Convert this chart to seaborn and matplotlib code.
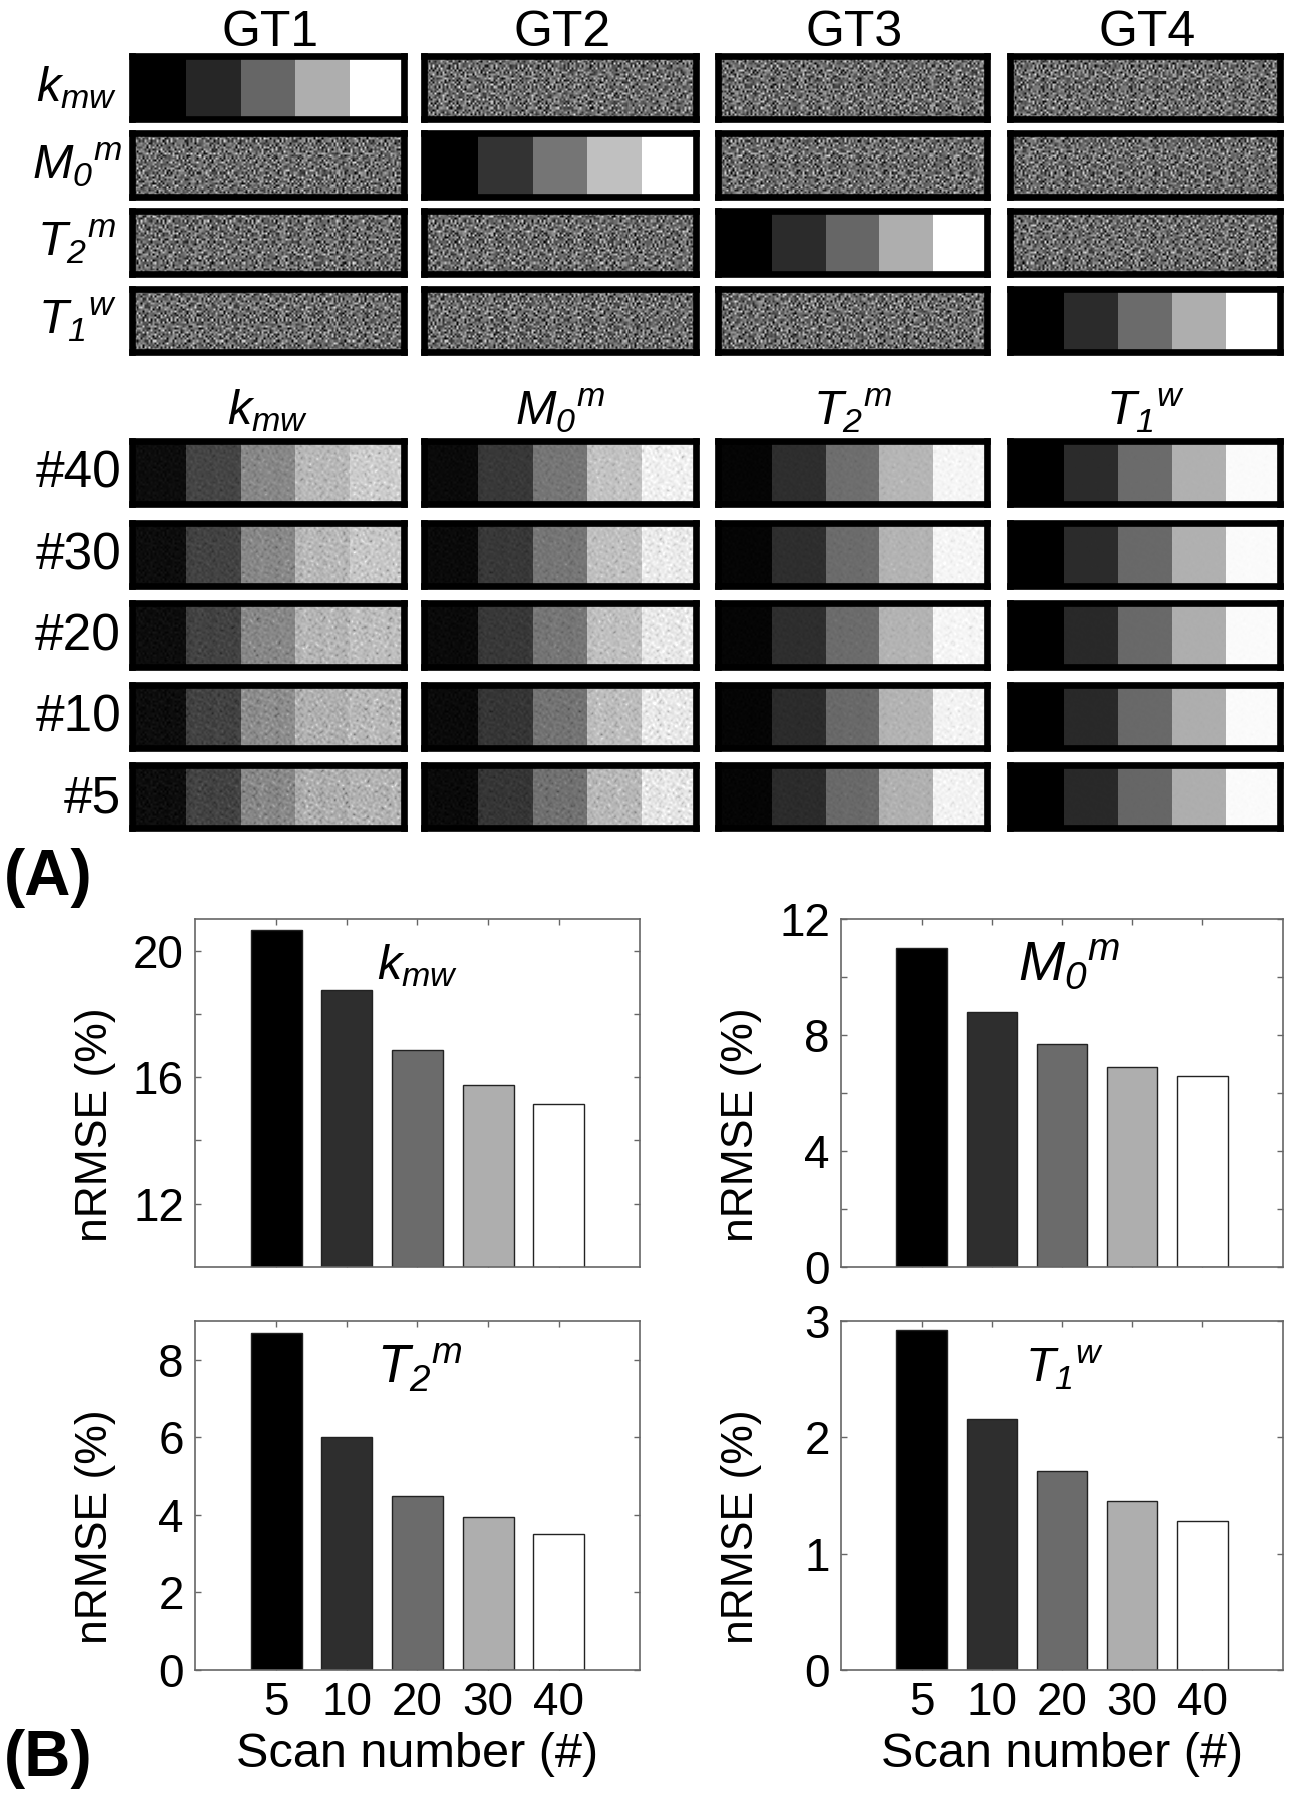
import numpy as np
import pandas as pd
import seaborn as sns
from matplotlib import pyplot as plt

sns.set_theme(style="white")
plt.rcParams["font.family"] = ["Liberation Sans", "DejaVu Sans"]
plt.rcParams["mathtext.fontset"] = "custom"
# all math labels in the figure are italic, digits included
plt.rcParams["mathtext.rm"] = "Liberation Sans:italic"
plt.rcParams["mathtext.it"] = "Liberation Sans:italic"
plt.rcParams["mathtext.bf"] = "Liberation Sans:bold"

W, H = 1292, 1800

GT_NAMES = ["GT1", "GT2", "GT3", "GT4"]
PARAM_LABELS = [r"$k_{mw}$", r"$M_0{}^{m}$", r"$T_2{}^{m}$", r"$T_1{}^{w}$"]
SCAN_ROWS = ["#40", "#30", "#20", "#10", "#5"]

# grey level of the five bands
GT_BANDS = [
    [0.00, 0.15, 0.40, 0.68, 1.00],
    [0.00, 0.20, 0.46, 0.75, 1.00],
    [0.00, 0.17, 0.40, 0.68, 1.00],
    [0.00, 0.17, 0.42, 0.68, 1.00],
]
KMW_BANDS = [
    [0.05, 0.27, 0.53, 0.72, 0.80],
    [0.05, 0.26, 0.53, 0.72, 0.78],
    [0.05, 0.26, 0.53, 0.71, 0.74],
    [0.05, 0.26, 0.55, 0.69, 0.72],
    [0.05, 0.26, 0.53, 0.68, 0.70],
]
M0_BANDS = [
    [0.04, 0.22, 0.46, 0.76, 0.94],
    [0.04, 0.22, 0.46, 0.75, 0.92],
    [0.04, 0.22, 0.46, 0.75, 0.91],
    [0.04, 0.21, 0.45, 0.74, 0.91],
    [0.04, 0.21, 0.44, 0.72, 0.90],
]
T2_BANDS = [
    [0.02, 0.18, 0.43, 0.71, 0.96],
    [0.02, 0.18, 0.42, 0.70, 0.96],
    [0.02, 0.18, 0.42, 0.70, 0.96],
    [0.02, 0.17, 0.41, 0.70, 0.95],
    [0.02, 0.17, 0.41, 0.69, 0.95],
]
T1_BANDS = [
    [0.00, 0.17, 0.42, 0.69, 0.98],
    [0.00, 0.17, 0.41, 0.69, 0.98],
    [0.00, 0.16, 0.41, 0.68, 0.98],
    [0.00, 0.16, 0.41, 0.68, 0.98],
    [0.00, 0.16, 0.40, 0.68, 0.98],
]
RECON_BANDS = [KMW_BANDS, M0_BANDS, T2_BANDS, T1_BANDS]
RECON_NOISE = [0.15, 0.11, 0.05, 0.008]
ROW_NOISE = [0.85, 0.95, 1.0, 1.1, 1.2]
NOISE_MEAN = 0.42
NOISE_AMP = 0.45

# hand typed speckle tiles, the real pixels of the noise can't be read
GRAIN_A = ["72914063851", "05382917460", "94167205839", "28540391726", "61739048215",
           "40826173954", "87351920647", "13694705282", "59078342196", "36215869470",
           "90473126568"]
GRAIN_B = ["3816029475162", "9052741638094", "1473960825731", "6280517394602", "4957183026849",
           "0361492758170", "8724036915263", "5190678342908", "2638915074416", "7405281693527",
           "1962347850386", "6078593124750", "3541706289914"]

SCANS = ["5", "10", "20", "30", "40"]
BAR_COLORS = ["#000000", "#2e2e2e", "#6b6b6b", "#aeaeae", "#ffffff"]
KMW_NRMSE = [20.65, 18.75, 16.85, 15.75, 15.15]
M0_NRMSE = [11.0, 8.8, 7.7, 6.9, 6.6]
T2_NRMSE = [8.7, 6.0, 4.5, 3.95, 3.5]
T1_NRMSE = [2.92, 2.16, 1.71, 1.45, 1.28]
BAR_SERIES = [KMW_NRMSE, M0_NRMSE, T2_NRMSE, T1_NRMSE]
BAR_YLIMS = [(10, 21), (0, 12), (0, 9), (0, 3)]
BAR_TICKS = [[12, 14, 16, 18, 20], [0, 2, 4, 6, 8, 10, 12], [0, 2, 4, 6, 8], [0, 1, 2, 3]]
BAR_TICK_LABELS = [["12", "", "16", "", "20"], ["0", "", "4", "", "8", "", "12"],
                   ["0", "2", "4", "6", "8"], ["0", "1", "2", "3"]]
INSET_X = [0.50, 0.517, 0.505, 0.505]
INSET_SIZE = [35, 40, 38, 35]

COL_X = [(132, 404), (424, 696), (718, 987), (1010, 1280)]
GT_Y = [(56, 119), (133, 197), (211, 274), (289, 352)]
RECON_Y = [(441, 504), (523, 586), (603, 667), (685, 748), (765, 828)]
BAR_X = [(195, 640), (841, 1283)]
BAR_Y = [(919, 1267), (1321, 1670)]


def px_axes(fig, x0, y0, x1, y1):
    return fig.add_axes([x0 / W, 1 - y1 / H, (x1 - x0) / W, (y1 - y0) / H])


def px_text(fig, x, y, s, **kw):
    kw.setdefault("color", "black")
    fig.text(x / W, 1 - y / H, s, va="center", **kw)


def grain(shift, coarse=False):
    a = np.array([[int(c) for c in row] for row in GRAIN_A], float)
    b = np.array([[int(c) for c in row] for row in GRAIN_B], float)
    a = np.tile(a, (4, 14))[:30, :135]
    b = np.tile(b, (3, 11))[:30, :135]
    g = (a + np.roll(b, (shift, 3 * shift), axis=(0, 1))) / 9.0 - 1.0
    g = np.repeat(np.repeat(g, 2, axis=0), 2, axis=1)
    # soften the blocks, the original images are blurred a little
    if coarse:
        soft = sum(np.roll(g, (dy, dx), axis=(0, 1)) for dy in (0, 1, 2) for dx in (0, 1, 2)) / 9.0
        return soft + 5.0 * soft ** 3
    return sum(np.roll(g, (dy, dx), axis=(0, 1)) for dy in (0, 1) for dx in (0, 1)) / 4.0


def draw_panel(fig, box, mat):
    ax = px_axes(fig, *box)
    sns.heatmap(mat, vmin=0, vmax=1, cmap="gray", cbar=False,
                xticklabels=False, yticklabels=False, ax=ax)
    for sp in ax.spines.values():
        sp.set_visible(True)
        sp.set_color("black")
        sp.set_linewidth(4.8)
    return ax


def band_image(bands, amp, shift):
    idx = np.arange(270) * 5 // 270
    base = np.tile(np.array(bands)[idx], (60, 1))
    # specks scale with the brightness of the band
    return np.clip(base * (1 + amp * grain(shift, coarse=True)) + 0.25 * amp * grain(shift + 1), 0, 1)


fig = plt.figure(figsize=(W / 100, H / 100), dpi=100)

# (A) ground truth panels, signal only where row matches column
for i, (y0, y1) in enumerate(GT_Y):
    px_text(fig, 77, (y0 + y1) / 2, PARAM_LABELS[i], fontsize=35, ha="center")
    for j, (x0, x1) in enumerate(COL_X):
        if i == j:
            mat = band_image(GT_BANDS[j], 0, 0)
        else:
            mat = np.clip(NOISE_MEAN + NOISE_AMP * grain(i * 4 + j * 5 + 1), 0, 1)
        draw_panel(fig, (x0, y0, x1, y1), mat)

for j, (x0, x1) in enumerate(COL_X):
    px_text(fig, (x0 + x1) / 2 + 2, 33, GT_NAMES[j], fontsize=36, ha="center")
    px_text(fig, (x0 + x1) / 2, 411, PARAM_LABELS[j], fontsize=35, ha="center")

# reconstructed panels
for i, (y0, y1) in enumerate(RECON_Y):
    px_text(fig, 121, (y0 + y1) / 2 + 2, SCAN_ROWS[i], fontsize=37, ha="right")
    for j, (x0, x1) in enumerate(COL_X):
        mat = band_image(RECON_BANDS[j][i], RECON_NOISE[j] * ROW_NOISE[i], i * 3 + j * 2 + 2)
        draw_panel(fig, (x0, y0, x1, y1), mat)

px_text(fig, 4, 878, "(A)", fontsize=46, fontweight="bold", ha="left")
px_text(fig, 4, 1759, "(B)", fontsize=46, fontweight="bold", ha="left")

# (B) error bars
for k in range(4):
    bx = BAR_X[k % 2]
    by = BAR_Y[k // 2]
    ax = px_axes(fig, bx[0], by[0], bx[1], by[1])
    df = pd.DataFrame({"scan": SCANS, "nrmse": BAR_SERIES[k]})
    sns.barplot(data=df, x="scan", y="nrmse", hue="scan", order=SCANS, hue_order=SCANS,
                palette=BAR_COLORS, dodge=False, width=0.72, legend=False,
                edgecolor="#222222", linewidth=1.0, saturation=1, ax=ax)
    ax.set_xlim(-1.15, 5.15)
    ax.set_ylim(*BAR_YLIMS[k])
    ax.set_yticks(BAR_TICKS[k])
    ax.set_yticklabels(BAR_TICK_LABELS[k])
    ax.tick_params(axis="both", direction="in", length=4, width=1, color="#666666",
                   top=True, right=True, bottom=True, left=True,
                   labelsize=33, labelcolor="black", pad=8)
    for sp in ax.spines.values():
        sp.set_visible(True)
        sp.set_color("#666666")
        sp.set_linewidth(1.2)
    ax.set_ylabel("nRMSE (%)", fontsize=32, color="black")
    ax.yaxis.set_label_coords(-0.178, 0.41)
    if k // 2 == 1:
        ax.set_xlabel("Scan number (#)", fontsize=35, color="black", labelpad=5)
    else:
        ax.set_xlabel("")
        ax.set_xticklabels([])
    ax.text(INSET_X[k], 0.865, PARAM_LABELS[k], transform=ax.transAxes, fontsize=INSET_SIZE[k],
            ha="center", va="center", color="black")

fig.savefig("out.png", dpi=100)
